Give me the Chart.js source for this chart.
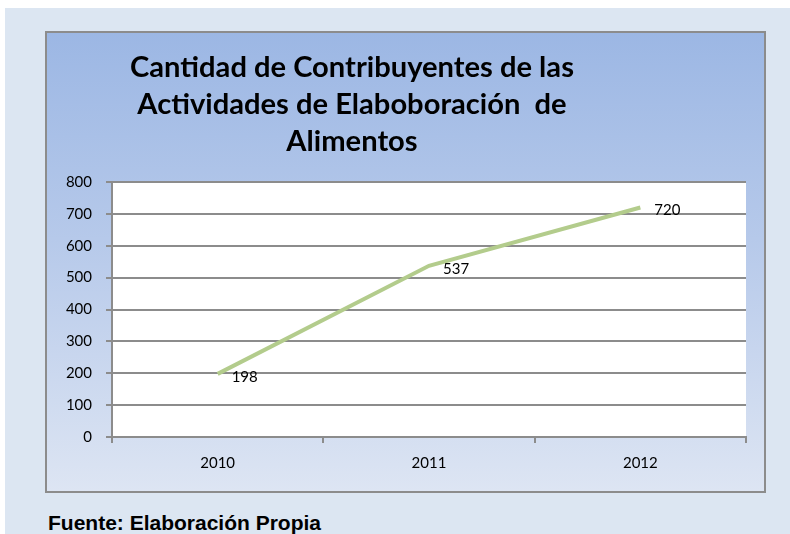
<!DOCTYPE html>
<html>
<head>
<meta charset="utf-8">
<script src="https://cdn.jsdelivr.net/npm/chart.js@4"></script>
<style>
	body { margin: 0; background: #ffffff; width: 790px; height: 534px; overflow: hidden; position: relative; }
	#backdrop { position: absolute; left: 5px; top: 8px; width: 785px; height: 526px; background: #dce6f2; }
	#chartBox {
		position: absolute; left: 45px; top: 31px; width: 721px; height: 462px;
		box-sizing: border-box; border: 2px solid #8c8c8c;
		background: linear-gradient(to bottom, #9cb7e4 0%, #b6c9ea 45%, #dde5f3 100%);
	}
	#chartBox canvas { display: block; }
	#footer {
		position: absolute; left: 48px; top: 512px; line-height: 21px; white-space: nowrap;
		font-family: "Liberation Sans", Arial, sans-serif; font-weight: bold; font-size: 21px; color: #000;
	}
</style>
</head>
<body>
<div id="backdrop"></div>
<div id="chartBox"><canvas id="lineChart" width="717" height="458"></canvas></div>
<div id="footer">Fuente: Elaboración Propia</div>
<script>
let years = ['2010', '2011', '2012'];
let contribuyentes = [198, 537, 720];
let titleLines = ['Cantidad de Contribuyentes de las', 'Actividades de Elaboboración  de', 'Alimentos'];
let yTicks = [0, 100, 200, 300, 400, 500, 600, 700, 800];

let gridColor = '#8c8c8c';
let lineColor = '#b3cc8c';
let smallFont = { family: 'Lato', size: 15 };

// white plot area behind the gridlines
let plotBackground = {
	id: 'plotBackground',
	beforeDraw(chart) {
		let ctx = chart.ctx;
		let a = chart.chartArea;
		ctx.save();
		ctx.fillStyle = '#ffffff';
		ctx.fillRect(a.left, a.top, a.right - a.left, a.bottom - a.top);
		ctx.restore();
	}
};

// three-line bold title, drawn on the box background
let titleBlock = {
	id: 'titleBlock',
	afterDraw(chart) {
		let ctx = chart.ctx;
		ctx.save();
		ctx.fillStyle = '#000000';
		ctx.textAlign = 'center';
		ctx.textBaseline = 'alphabetic';
		ctx.font = 'bold 26px Lato';
		let w = ctx.measureText(titleLines[0]).width;
		let size = 26 * 444 / w;
		ctx.font = 'bold ' + size.toFixed(2) + 'px Lato';
		titleLines.forEach((line, i) => {
			ctx.fillText(line, 305, 44 + i * 37);
		});
		ctx.restore();
	}
};

// value labels to the right of each point
let valueLabels = {
	id: 'valueLabels',
	afterDatasetsDraw(chart) {
		let ctx = chart.ctx;
		let meta = chart.getDatasetMeta(0);
		ctx.save();
		ctx.fillStyle = '#000000';
		ctx.font = smallFont.size + 'px ' + smallFont.family;
		ctx.textAlign = 'left';
		ctx.textBaseline = 'middle';
		meta.data.forEach((pt, i) => {
			ctx.fillText(String(contribuyentes[i]), pt.x + 14, pt.y + 3);
		});
		ctx.restore();
	}
};

let chartContext = document.getElementById('lineChart').getContext('2d');

let lineChart = new Chart(chartContext, {
	type: 'line',
	data: {
		labels: years,
		datasets: [{
			label: 'Contribuyentes',
			data: contribuyentes,
			borderColor: lineColor,
			backgroundColor: lineColor,
			borderWidth: 4,
			pointRadius: 0,
			tension: 0,
			borderCapStyle: 'butt'
		}]
	},
	options: {
		responsive: false,
		animation: false,
		devicePixelRatio: 1,
		layout: {
			padding: { left: 0, top: 149, right: 18, bottom: 16 }
		},
		plugins: {
			legend: { display: false },
			title: { display: false },
			tooltip: { enabled: false }
		},
		scales: {
			x: {
				offset: true,
				afterFit(scale) { scale.height = 38; },
				grid: {
					offset: true,
					drawOnChartArea: false,
					drawTicks: true,
					tickLength: 6,
					color: gridColor,
					lineWidth: 2
				},
				border: { display: true, color: gridColor, width: 2 },
				ticks: {
					color: '#000000',
					font: smallFont,
					padding: 11
				}
			},
			y: {
				min: 0,
				max: 800,
				afterFit(scale) { scale.width = 65; },
				afterBuildTicks(scale) { scale.ticks = yTicks.map(v => ({ value: v })); },
				grid: {
					color: gridColor,
					lineWidth: 2,
					tickLength: 6
				},
				border: { display: true, color: gridColor, width: 2 },
				ticks: {
					color: '#000000',
					font: smallFont,
					padding: 14
				}
			}
		}
	},
	plugins: [plotBackground, titleBlock, valueLabels]
});
</script>
</body>
</html>
